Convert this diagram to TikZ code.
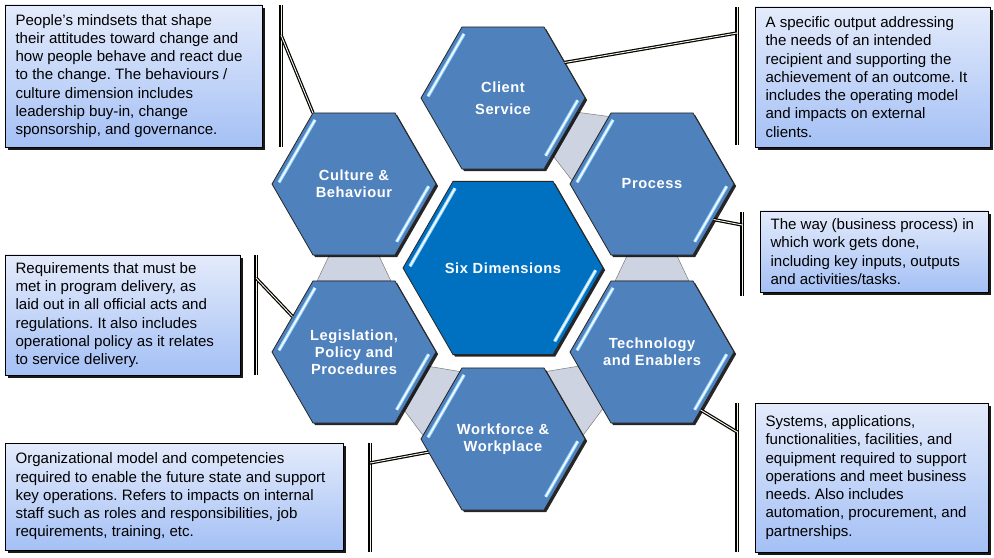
\documentclass[tikz,border=0pt]{standalone}
\usepackage{fontspec}
\setmainfont{Liberation Sans}
\newfontfamily\hexfont[LetterSpace=4]{Liberation Sans}
\usetikzlibrary{shapes.geometric, shadows, calc, backgrounds}

\definecolor{hexblue}{RGB}{79,129,189}
\definecolor{coreblue}{RGB}{0,112,192}
\definecolor{bandgray}{RGB}{205,211,224}
\definecolor{boxtop}{RGB}{228,235,251}
\definecolor{boxbottom}{RGB}{164,192,245}
\definecolor{glint}{RGB}{150,215,255}
\definecolor{cream}{RGB}{250,246,225}

\begin{document}
\frenchspacing
\begin{tikzpicture}[x=0.75pt,y=0.75pt,
  hexa/.style={regular polygon, regular polygon sides=6, inner sep=0pt, outer sep=0pt,
    minimum size=123pt, fill=hexblue, draw=black!85, line width=0.6pt,
    drop shadow={shadow xshift=1.6pt, shadow yshift=-1.6pt, fill=black, opacity=0.85},
    text=white, align=center, font=\hexfont\fontsize{11}{12.8}\selectfont\bfseries},
  infobox/.style={draw=black, line width=0.6pt, top color=boxtop, bottom color=boxbottom,
    drop shadow={shadow xshift=2.4pt, shadow yshift=-2.4pt, fill=black, opacity=0.9}},
  infotext/.style={anchor=west, inner sep=0pt, align=left,
    font=\fontsize{11.3}{13.7}\selectfont},
  bracket/.style={draw=black, line width=0.9pt, double=cream, double distance=0.7pt},
  band/.style={fill=bandgray, draw=black!50, line width=0.4pt},
  glintline/.style={draw=glint, line width=0.8pt, double=white, double distance=1pt}]
\useasboundingbox (0,0) rectangle (994,557);

\node[hexa, fill=coreblue, minimum size=150pt] (dims) at (503,289) {Six Dimensions};
\node[hexa] (client) at (503,459) {Client\\[4pt]Service};
\node[hexa] (cult) at (354,373) {Culture \&\\Behaviour};
\node[hexa] (proc) at (652,373) {Process};
\node[hexa] (legis) at (354,205) {Legislation,\\Policy and\\Procedures};
\node[hexa] (tech) at (652,205) {Technology\\and Enablers};
\node[hexa] (work) at (503,118) {Workforce \&\\Workplace};

\begin{scope}[on background layer]
\foreach \a/\aa/\ab/\b/\ba/\bb in {cult/240/300/legis/120/60, client/300/0/proc/180/120,
    proc/240/300/tech/120/60, legis/300/0/work/180/120, tech/240/180/work/0/60}
  \draw[band] ($(\a.\aa)!0.2!(\a.\ab)$) -- ($(\a.\aa)!0.8!(\a.\ab)$)
    -- ($(\b.\ba)!0.95!(\b.\bb)$) -- ($(\b.\ba)!0.05!(\b.\bb)$) -- cycle;
\end{scope}

\foreach \h/\r in {dims/100, client/82, cult/82, proc/82, legis/82, tech/82, work/82}{
  \draw[glintline, shorten <=1.5pt, shorten >=1.5pt]
    ($(\h.center)+(120:{\r-6})$) -- ($(\h.center)+(180:{\r-6})$);
  \draw[glintline, shorten <=2pt, shorten >=7pt]
    ($(\h.center)+(0:{\r-6})$) -- ($(\h.center)+(300:{\r-6})$);
}

\node[infobox, minimum width=192.75pt, minimum height=106.5pt] (cultbox) at (133.5,481) {};
\node[infotext] (culttext) at ([xshift=8pt]cultbox.west)
  {People’s mindsets that shape\\their attitudes toward change and\\how people behave and react due\\to the change. The behaviours /\\culture dimension includes\\leadership buy-in, change\\sponsorship, and governance.};
\node[infobox, minimum width=176.25pt, minimum height=105pt] (clientbox) at (872.5,480) {};
\node[infotext] (clienttext) at ([xshift=8pt]clientbox.west)
  {A specific output addressing\\the needs of an intended\\recipient and supporting the\\achievement of an outcome. It\\includes the operating model\\and impacts on external\\clients.};
\node[infobox, minimum width=171pt, minimum height=60.75pt] (procbox) at (874,305.5) {};
\node[infotext] (proctext) at ([xshift=8pt]procbox.west)
  {The way (business process) in\\which work gets done,\\including key inputs, outputs\\and activities/tasks.};
\node[infobox, minimum width=176.25pt, minimum height=90pt] (legisbox) at (122.5,242) {};
\node[infotext] (legistext) at ([xshift=8pt]legisbox.west)
  {Requirements that must be\\met in program delivery, as\\laid out in all official acts and\\regulations. It also includes\\operational policy as it relates\\to service delivery.};
\node[infobox, minimum width=253.5pt, minimum height=80.25pt] (workbox) at (174,60.5) {};
\node[infotext] (worktext) at ([xshift=8pt]workbox.west)
  {Organizational model and competencies\\required to enable the future state and support\\key operations. Refers to impacts on internal\\staff such as roles and responsibilities, job\\requirements, training, etc.};
\node[infobox, minimum width=174.75pt, minimum height=111.75pt] (techbox) at (871.5,79.5) {};
\node[infotext] (techtext) at ([xshift=8pt]techbox.west)
  {Systems, applications,\\functionalities, facilities, and\\equipment required to support\\operations and meet business\\needs. Also includes\\automation, procurement, and\\partnerships.};

\coordinate (cultbar top) at (281,552);
\coordinate (cultbar bot) at (281,410);
\coordinate (cultbar hook) at (281,522);
\coordinate (clientbar top) at (737,550);
\coordinate (clientbar bot) at (737,412);
\coordinate (clientbar hook) at (737,524);
\coordinate (procbar top) at (742,345);
\coordinate (procbar bot) at (742,261);
\coordinate (procbar hook) at (742,332);
\coordinate (legisbar top) at (256,302);
\coordinate (legisbar bot) at (256,182);
\coordinate (legisbar hook) at (256,279);
\coordinate (workbar top) at (370,114);
\coordinate (workbar bot) at (370,5);
\coordinate (workbar hook) at (370,94);
\coordinate (techbar top) at (737,154);
\coordinate (techbar bot) at (737,5);
\coordinate (techbar hook) at (737,125);

\foreach \h/\p in {cult/120, client/30, proc/330, legis/150, work/190, tech/310}{
  \draw[bracket] (\h bar top) -- (\h bar bot);
  \draw[bracket] (\h bar hook) -- (\h.\p);
}
\end{tikzpicture}
\end{document}
